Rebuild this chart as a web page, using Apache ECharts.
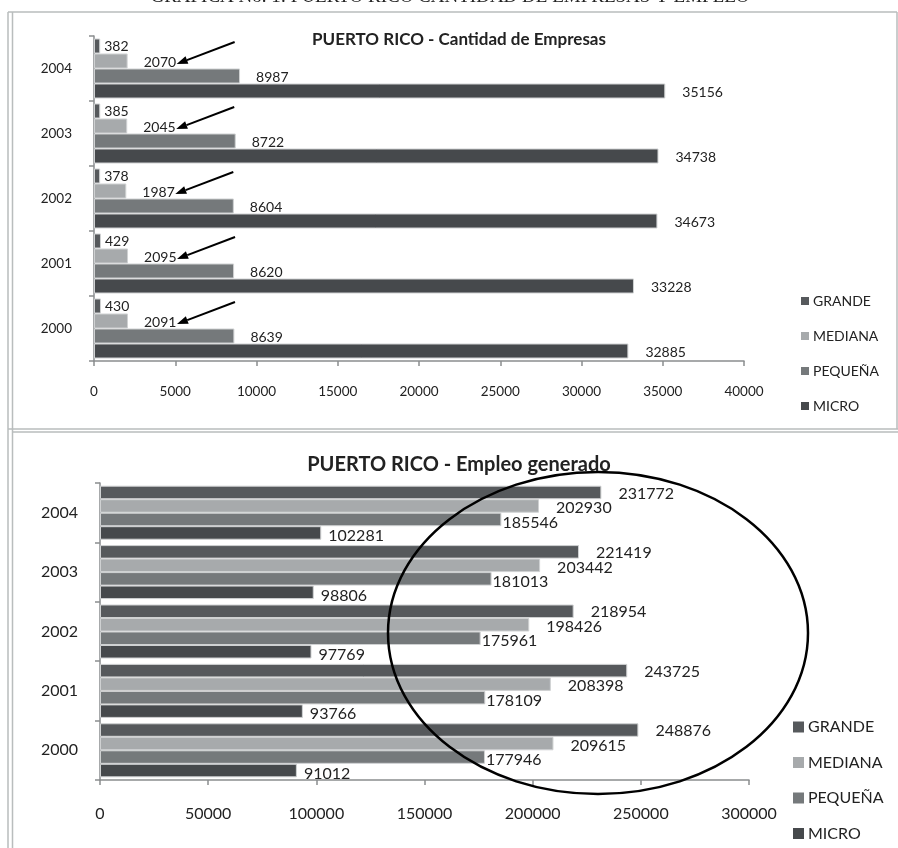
<!DOCTYPE html>
<html>
<head>
<meta charset="utf-8">
<script src="https://cdn.jsdelivr.net/npm/echarts@6/dist/echarts.min.js"></script>
<style>
  html, body { margin: 0; padding: 0; background: #fff; }
  #chart { width: 898px; height: 848px; }
</style>
</head>
<body>
<div id="chart"></div>
<script>
// Years on the category axis (bottom to top)
const years = ['2000', '2001', '2002', '2003', '2004'];
const seriesNames = ['GRANDE', 'MEDIANA', 'PEQUEÑA', 'MICRO'];

// Number of companies by size
const empresasGrande  = [430, 429, 378, 385, 382];
const empresasMediana = [2091, 2095, 1987, 2045, 2070];
const empresasPequena = [8639, 8620, 8604, 8722, 8987];
const empresasMicro   = [32885, 33228, 34673, 34738, 35156];

// Employment generated by size
const empleoGrande  = [248876, 243725, 218954, 221419, 231772];
const empleoMediana = [209615, 208398, 198426, 203442, 202930];
const empleoPequena = [177946, 178109, 175961, 181013, 185546];
const empleoMicro   = [91012, 93766, 97769, 98806, 102281];

// Value axis ticks
const empresasTicks = { min: 0, max: 40000, interval: 5000 };
const empleoTicks   = { min: 0, max: 300000, interval: 50000 };

const colors = {
  GRANDE: '#56595c',
  MEDIANA: '#a7aaac',
  'PEQUEÑA': '#75797b',
  MICRO: '#46494c'
};
const FONT = 'Lato, "Open Sans", sans-serif';
const TXT = '#222';
const AXIS = '#8a8d8f';

// label offsets per series, [dx, dy]
const topOffsets = { GRANDE: [4, 0], MEDIANA: [16, 1], 'PEQUEÑA': [16, 1], MICRO: [17, 1] };
const botOffsets = { GRANDE: [17, 1], MEDIANA: [17, 2], 'PEQUEÑA': [1, 3], MICRO: [7, 3] };

function barSeries(name, data, gridIdx, barWidth, offsets, fontSize) {
  return {
    type: 'bar',
    name: name,
    xAxisIndex: gridIdx,
    yAxisIndex: gridIdx,
    data: data,
    barWidth: barWidth,
    barGap: '0%',
    itemStyle: { color: colors[name], borderColor: '#cfd1d2', borderWidth: 1 },
    label: {
      show: true,
      position: 'right',
      distance: 0,
      offset: offsets[name],
      color: TXT,
      fontFamily: FONT,
      fontSize: fontSize
    },
    emphasis: { disabled: true },
    animation: false
  };
}

function catAxis(gridIdx, fontSize) {
  return {
    type: 'category',
    gridIndex: gridIdx,
    data: years,
    boundaryGap: true,
    axisLine: { lineStyle: { color: AXIS, width: 1.5 } },
    axisTick: { show: true, length: 5, lineStyle: { color: AXIS, width: 1.5 } },
    axisLabel: { color: TXT, fontFamily: FONT, fontSize: fontSize, margin: 22 }
  };
}

function valAxis(gridIdx, ticks, fontSize, margin) {
  return {
    type: 'value',
    gridIndex: gridIdx,
    min: ticks.min,
    max: ticks.max,
    interval: ticks.interval,
    splitLine: { show: false },
    axisLine: { show: true, lineStyle: { color: AXIS, width: 1.5 } },
    axisTick: { show: true, length: 5, lineStyle: { color: AXIS, width: 1.5 } },
    axisLabel: {
      color: TXT, fontFamily: FONT, fontSize: fontSize, margin: margin,
      formatter: v => String(v)
    }
  };
}

function legendBox(top, left, size, gap, fontSize) {
  return {
    orient: 'vertical',
    left: left,
    top: top,
    padding: 0,
    data: seriesNames,
    icon: 'rect',
    itemWidth: size,
    itemHeight: size,
    itemGap: gap,
    itemStyle: { borderWidth: 0 },
    selectedMode: false,
    textStyle: { color: TXT, fontFamily: FONT, fontSize: fontSize, lineHeight: fontSize, padding: [0, 0, 0, -1] }
  };
}

const chart = echarts.init(document.getElementById('chart'), null, { renderer: 'canvas' });

const empresasData = [empresasGrande, empresasMediana, empresasPequena, empresasMicro];
const empleoData = [empleoGrande, empleoMediana, empleoPequena, empleoMicro];

const series = [];
seriesNames.forEach((n, i) => series.push(barSeries(n, empresasData[i], 0, 15, topOffsets, 14)));
seriesNames.forEach((n, i) => series.push(barSeries(n, empleoData[i], 1, 13.5, botOffsets, 16)));

// Frames around the two panels and the heading line above them
const frameColor = '#b9bdbd';
const frames = [
  { type: 'line', shape: { x1: 8, y1: 12, x2: 897, y2: 12 }, style: { stroke: frameColor, lineWidth: 1.5 } },
  { type: 'line', shape: { x1: 8, y1: 429, x2: 898, y2: 429 }, style: { stroke: frameColor, lineWidth: 1.5 } },
  { type: 'line', shape: { x1: 12.5, y1: 432, x2: 898, y2: 432 }, style: { stroke: frameColor, lineWidth: 1.5 } },
  { type: 'line', shape: { x1: 8, y1: 12, x2: 8, y2: 848 }, style: { stroke: frameColor, lineWidth: 1.5 } },
  { type: 'line', shape: { x1: 12.5, y1: 12, x2: 12.5, y2: 848 }, style: { stroke: frameColor, lineWidth: 1.5 } },
  { type: 'line', shape: { x1: 897, y1: 12, x2: 897, y2: 429 }, style: { stroke: frameColor, lineWidth: 1.5 } },
  {
    type: 'text', x: 450, y: 7,
    style: {
      text: 'GRAFICA No. 1: PUERTO RICO CANTIDAD DE EMPRESAS Y EMPLEO',
      font: '19px "Liberation Serif", serif', fill: '#222',
      textAlign: 'center', textVerticalAlign: 'bottom'
    }
  },
  {
    type: 'text', x: 459, y: 40,
    style: {
      text: 'PUERTO RICO - Cantidad de Empresas',
      font: 'bold 17px Lato, sans-serif', fill: '#222',
      textAlign: 'center', textVerticalAlign: 'middle'
    }
  },
  {
    type: 'text', x: 459, y: 465,
    style: {
      text: 'PUERTO RICO - Empleo generado',
      font: 'bold 20px Lato, sans-serif', fill: '#222',
      textAlign: 'center', textVerticalAlign: 'middle'
    }
  },
  // ellipse highlighting the employment bars
  {
    type: 'ellipse', z: 100,
    shape: { cx: 598, cy: 633, rx: 210, ry: 161 },
    style: { fill: 'none', stroke: '#000', lineWidth: 2.5 }
  }
];

chart.setOption({
  animation: false,
  backgroundColor: '#fff',
  grid: [
    { left: 94, right: 154, top: 36, height: 325 },
    { left: 100, right: 149, top: 483, height: 297 }
  ],
  xAxis: [valAxis(0, empresasTicks, 13.5, 24), valAxis(1, empleoTicks, 16, 26)],
  yAxis: [catAxis(0, 13.5), catAxis(1, 16)],
  legend: [legendBox(294, 801, 8, 21, 14), legendBox(719, 793, 11, 19.5, 16)],
  series: series,
  graphic: frames
});

// Arrows pointing at the MEDIANA labels of the companies chart
const arrows = [];
years.forEach((y, i) => {
  const p = chart.convertToPixel({ seriesIndex: 1 }, [empresasMediana[i], y]);
  // bar centre: MEDIANA is second of four 15px bars centred in the band
  const hx = p[0] + 49, hy = p[1] - 7.5 + 3;
  const tx = hx + 58, ty = hy - 22;
  const ang = Math.atan2(hy - ty, hx - tx);
  const L = 11, W = 4;
  const bx = hx - L * Math.cos(ang), by = hy - L * Math.sin(ang);
  const nx = -Math.sin(ang) * W, ny = Math.cos(ang) * W;
  arrows.push({
    type: 'line', z: 100,
    shape: { x1: tx, y1: ty, x2: bx, y2: by },
    style: { stroke: '#000', lineWidth: 2 }
  });
  arrows.push({
    type: 'polygon', z: 100,
    shape: { points: [[hx, hy], [bx + nx, by + ny], [bx - nx, by - ny]] },
    style: { fill: '#000' }
  });
});
chart.setOption({ graphic: frames.concat(arrows) });
</script>
</body>
</html>
